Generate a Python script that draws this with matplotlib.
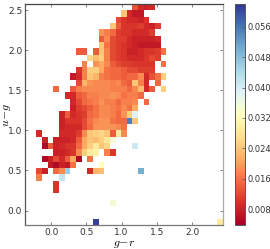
import numpy as np
import matplotlib
matplotlib.use("Agg")
import matplotlib.pyplot as plt

# colour values x 1000, each row: (first column, values), top row first, None = empty bin
rows = [
    (19, [13, 9, 8, 9]),
    (17, [24, 9, 7, 7]),
    (16, [12, 10, 9, 9, 8, 10]),
    (15, [24, 14, 10, 10, 10, 11, 9, 8, 11]),
    (13, [19, 17, 15, 11, 10, 10, 9, 9, 9, 11]),
    (13, [14, 18, 12, 11, 11, 9, 8, 8, 8, 8, 9]),
    (13, [24, 16, 12, 11, 10, 9, 8, 7, 7, 7, 7]),
    (9, [14, 14, None, 14, 24, 17, 12, 11, 10, 8, 8, 9, 10, 10, 11, 16]),
    (11, [26, 23, 25, 17, 12, 11, 10, 9, 9, 9, 10, 12, 11]),
    (10, [17, None, 19, 21, 18, 14, 12, 11, 11, 10, 10, 10, 10, None, 16]),
    (9, [10, 17, 25, 25, 21, 16, 15, 15, 14, 12, 12, 11, 11, 11]),
    (8, [7, 9, 17, 24, 22, 17, 16, 15, 15, 14, 15, 15, 18, 9, 13, 16, 25]),
    (9, [12, 22, 19, 18, 18, 18, 17, 18, 15, 14, 24, 17, 9, None, 15]),
    (5, [15, None, None, 14, 17, 18, 18, 18, 18, 18, 17, 17, 17, 15, 18, 23, 9, 14, None, 25]),
    (7, [9, 9, 14, 15, 17, 17, 18, 18, 19, 18, 16, 17, 17, 15]),
    (8, [9, 12, 15, 16, 17, 19, 17, 17, 15, 17, 17, 18, None, 15]),
    (8, [8, 11, 12, 14, 16, 18, 18, 17, 16, 18, 16, 21]),
    (6, [8, 14, 9, 10, 11, 15, 16, 18, 18, 17, 15, 19, 25, 39]),
    (6, [8, 10, 10, 10, 12, 16, 18, 19, 19, 16, 15, 15, 55, 24]),
    (6, [8, 9, 9, 9, 12, 15, 19, 19, 19, 19, 18, 16]),
    (2, [9, None, None, None, 9, 9, 9, 11, 18, 24, 25, 26, 24, 14, 29, 18]),
    (3, [8, None, 8, 8, 8, 9, 14, 21, 24, 23, 25, 28, 35]),
    (3, [5, 14, 8, 9, 10, 10, 15, 21, 25, 29, 24, 26, None, None, None, None, 41]),
    (5, [8, 8, 9, 10, 18, 25, 29, 30, None, 17, 10]),
    (3, [5, 8, 12, 9, 14, 21, 5, None, 16]),
    (4, [7, 5, 8, 7, 16, None, None, None, None, 32]),
    (2, [12, 8, None, 15, 18, 46, None, None, None, 9, 22, 23, None, None, None, None, None, None, 50]),
    (2, [17, None, None, None, 42]),
    (5, [10]),
    (5, [10]),
    (0, []),
    (15, [35]),
    (0, []),
    (0, []),
    (12, [61] + [None] * 21 + [29]),
]
vmin = 0.0038
vmax = 0.062
cbar_ticks = [0.008, 0.016, 0.024, 0.032, 0.040, 0.048, 0.056]

grid = np.full((35, 35), np.nan)
for j, (start, vals) in enumerate(rows):
    for k, v in enumerate(vals):
        if v is not None:
            grid[j, start + k] = v / 1000.0

plt.rcParams["font.size"] = 6.5
plt.rcParams["mathtext.fontset"] = "cm"

fig = plt.figure(figsize=(2.7, 2.49), dpi=100)
ax = fig.add_axes([25 / 270, 1 - 225 / 249, 198 / 270, 221 / 249])

xedges = np.linspace(-0.37, 2.44, 36)
yedges = np.linspace(2.575, -0.18, 36)
mesh = ax.pcolormesh(xedges, yedges, np.ma.masked_invalid(grid), cmap="RdYlBu", vmin=vmin, vmax=vmax)

ax.set_xlim(-0.37, 2.44)
ax.set_ylim(-0.18, 2.575)
ax.set_xticks([0.0, 0.5, 1.0, 1.5, 2.0])
ax.set_yticks([0.0, 0.5, 1.0, 1.5, 2.0, 2.5])
ax.tick_params(direction="in", top=True, right=True, length=2, width=0.5, color="#555555",
               labelcolor="#333333", pad=2)
ax.set_xlabel(r"$g\!-\!r$", fontsize=8.5)
ax.set_ylabel(r"$u\!-\!g$", fontsize=8.5)
ax.xaxis.set_label_coords(0.5, -0.055)
ax.yaxis.set_label_coords(-0.062, 0.5)
ax.spines["left"].set_color("#555555")
ax.spines["top"].set_color("#444444")
ax.spines["bottom"].set_color("#777777")
ax.spines["right"].set_color("#aaaaaa")
for s in ax.spines.values():
    s.set_linewidth(0.9)

cax = fig.add_axes([235 / 270, 1 - 225 / 249, 10 / 270, 221 / 249])
cbar = fig.colorbar(mesh, cax=cax, ticks=cbar_ticks)
cbar.ax.set_yticklabels(["%.3f" % t for t in cbar_ticks])
cbar.ax.tick_params(direction="in", length=2, width=0.5, color="#555555", labelcolor="#333333", pad=2, labelsize=6)
cbar.outline.set_edgecolor("#555555")
cbar.outline.set_linewidth(0.7)

fig.savefig("out.png", dpi=100)
